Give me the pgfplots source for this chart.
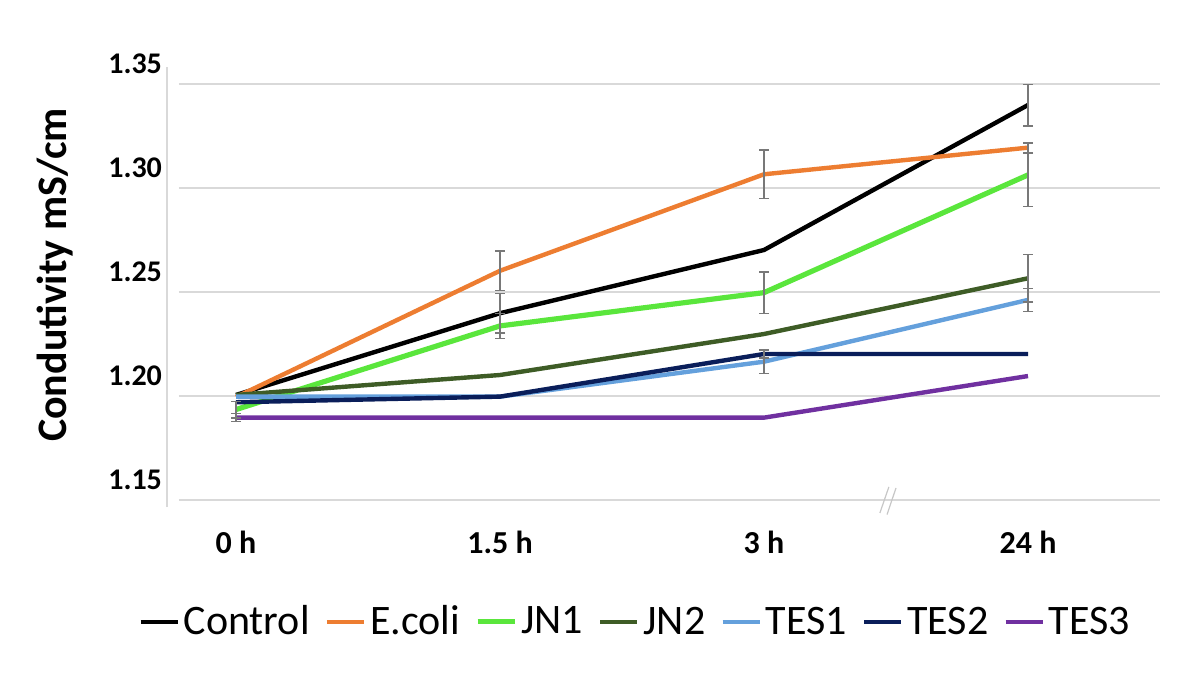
\documentclass[border=0pt]{standalone}
\usepackage{fontspec}
\setmainfont{Carlito}
\usepackage{pgfplots}
\usepackage{pgfplotstable}
\pgfplotsset{compat=1.18}
\definecolor{cCtrl}{RGB}{0,0,0}
\definecolor{cEcoli}{RGB}{237,125,49}
\definecolor{cJNa}{RGB}{90,230,60}
\definecolor{cJNb}{RGB}{62,92,38}
\definecolor{cTESa}{RGB}{100,160,220}
\definecolor{cTESb}{RGB}{10,30,90}
\definecolor{cTESc}{RGB}{112,48,160}
\definecolor{cGrid}{RGB}{217,217,217}
\definecolor{cErr}{RGB}{120,120,120}

\pgfplotstableread{
x Control Ecoli JN1 JN2 TES1 TES2 TES3
0 1.2005 1.1995 1.1935 1.2005 1.1997 1.1970 1.1896
1 1.2398 1.2602 1.2337 1.2101 1.1997 1.1997 1.1896
2 1.2702 1.3066 1.2497 1.2298 1.2165 1.2202 1.1896
3 1.3399 1.3194 1.3063 1.2566 1.2462 1.2202 1.2096
}\data

\pgfplotstableread{
x y e
1 1.2398 0.0096
3 1.3399 0.0100
1 1.2602 0.0095
2 1.3066 0.0116
3 1.3194 0.0025
0 1.1935 0.0040
1 1.2337 0.0060
2 1.2497 0.0100
3 1.3063 0.0152
3 1.2566 0.0115
2 1.2165 0.0056
3 1.2462 0.0056
2 1.2202 0.0020
0 1.1896 0.0020
}\errs

\begin{document}
\begin{tikzpicture}
\begin{axis}[name=ax, scale only axis, width=490.5pt, height=208pt,
  xmin=-0.216, xmax=3.5, ymin=1.15, ymax=1.35,
  xtick={0,1,2,3}, xticklabels={0 h,1.5 h,3 h,24 h},
  ytick={1.15,1.20,1.25,1.30,1.35},
  /pgf/number format/assume math mode=true,
  yticklabel style={/pgf/number format/fixed, /pgf/number format/fixed zerofill, /pgf/number format/precision=2,
     font=\fontsize{15}{18}\selectfont\bfseries, xshift=-5pt, yshift=10pt},
  xticklabel style={font=\fontsize{16}{19}\selectfont\bfseries, yshift=-12pt},
  ymajorgrids, grid style={draw=cGrid, line width=1pt},
  axis line style={draw=none}, major tick length=0pt,
  ylabel={Condutivity mS/cm},
  ylabel style={font=\fontsize{21}{25}\selectfont\bfseries, at={(axis description cs:-0.126,0.541)}, anchor=center},
  legend style={at={(axis description cs:0.466,-0.293)}, anchor=center, draw=none, legend columns=7,
     font=\fontsize{21}{25}\selectfont, /tikz/every even column/.append style={column sep=5.5pt}},
  legend image code/.code={\draw[#1] (0pt,0pt) -- (18.5pt,0pt);},
  clip=false,
  every axis plot/.append style={line width=2.2pt, mark=none, line join=round},
]
\addplot[cCtrl] table[x=x,y=Control]{\data};
\addlegendentry{Control}
\addplot[cEcoli] table[x=x,y=Ecoli]{\data};
\addlegendentry{E.coli}
\addplot[cJNa, line width=2.6pt] table[x=x,y=JN1]{\data};
\addlegendentry{JN1}
\addplot[cJNb] table[x=x,y=JN2]{\data};
\addlegendentry{JN2}
\addplot[cTESa] table[x=x,y=TES1]{\data};
\addlegendentry{TES1}
\addplot[cTESb] table[x=x,y=TES2]{\data};
\addlegendentry{TES2}
\addplot[cTESc] table[x=x,y=TES3]{\data};
\addlegendentry{TES3}
\addplot[forget plot, draw=none, line width=0.7pt,
  error bars/.cd, y dir=both, y explicit,
  error bar style={cErr, line width=0.7pt},
  error mark options={cErr, rotate=90, mark size=2.5pt, line width=0.7pt}]
  table[x=x, y=y, y error=e]{\errs};
\draw[cGrid!80!gray, line width=0.6pt] (axis cs:2.439,1.1438) -- (axis cs:2.473,1.1563);
\draw[cGrid!80!gray, line width=0.6pt] (axis cs:2.466,1.1430) -- (axis cs:2.500,1.1558);
\end{axis}
\draw[cGrid, line width=1pt] ([xshift=-6pt,yshift=-3.5pt]ax.south west) -- ([xshift=-6pt,yshift=216.5pt]ax.south west);
\path ([xshift=-89.5pt,yshift=-93.5pt]ax.south west) rectangle ++(600pt,343.5pt);
\end{tikzpicture}
\end{document}
